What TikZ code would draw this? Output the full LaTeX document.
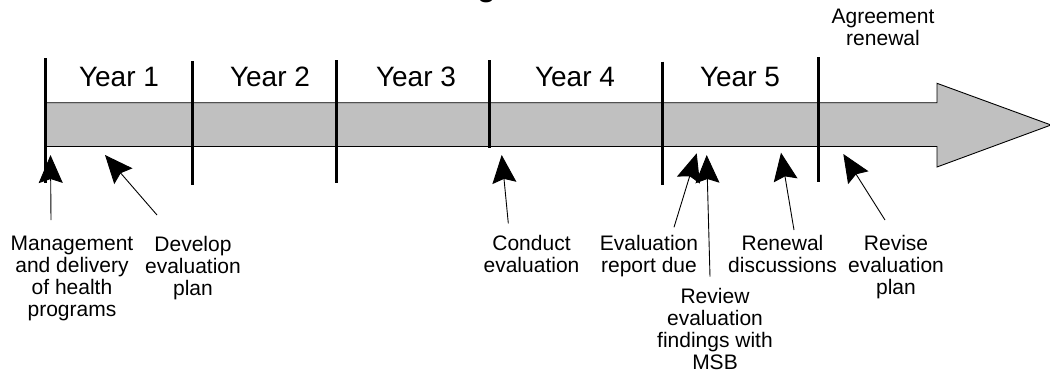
\documentclass[tikz,border=0pt]{standalone}
\usepackage{fontspec}
\setmainfont{Liberation Sans}
\usetikzlibrary{arrows.meta}
\definecolor{bargray}{HTML}{C0C0C0}
\tikzset{
  yearlbl/.style={font=\fontsize{28}{30}\selectfont, anchor=base, inner sep=0},
  note/.style={font=\fontsize{21}{22}\selectfont, align=center, anchor=north, inner sep=0},
  divider/.style={line width=3pt},
  pointer/.style={line width=0.9pt, -{Stealth[length=28pt,width=24pt,inset=4pt]}},
}
\begin{document}
\begin{tikzpicture}[x=1pt,y=-1pt]
\useasboundingbox (0,0) rectangle (1050,375);
% title fragment
\node[font=\fontsize{30}{30}\selectfont\bfseries, anchor=base, inner sep=0] (title) at (486.5,-3.6) {g};
% bar arrow
\draw[fill=bargray, line width=0.9pt, line join=miter]
  (45,102.7) -- (937,102.7) -- (937,83.3) -- (1051,125) -- (937,167) -- (937,146.5) -- (45,146.5) -- cycle;
% dividers
\coordinate (d0t) at (45,58);    \coordinate (d0b) at (45,183);
\coordinate (d1t) at (192,61);   \coordinate (d1b) at (192,185);
\coordinate (d2t) at (336,60);   \coordinate (d2b) at (336,183);
\coordinate (d3t) at (489,60);   \coordinate (d3b) at (489,147.5);
\coordinate (d4t) at (662.3,61.5); \coordinate (d4b) at (662.3,185);
\coordinate (d5t) at (818.5,57); \coordinate (d5b) at (818.5,181.7);
\foreach \i in {0,...,5} \draw[divider] (d\i t) -- (d\i b);
% year labels
\node[yearlbl] (y1) at (119,86.7) {Year 1};
\node[yearlbl] (y2) at (270,86.7) {Year 2};
\node[yearlbl] (y3) at (416,86.7) {Year 3};
\node[yearlbl] (y4) at (575,86.7) {Year 4};
\node[yearlbl] (y5) at (740,86.7) {Year 5};
% notes
\node[note] (agr) at (883,9) {Agreement\\renewal};
\node[note] (mgmt) at (72,236) {Management\\and delivery\\of health\\programs};
\node[note] (dev) at (193,236) {Develop\\evaluation\\plan};
\node[note] (cond) at (531.5,235) {Conduct\\evaluation};
\node[note] (rep) at (649,235) {Evaluation\\report due};
\node[note] (rev) at (715,288) {Review\\evaluation\\findings with\\MSB};
\node[note] (ren) at (782.5,235) {Renewal\\discussions};
\node[note] (revise) at (896,235) {Revise\\evaluation\\plan};
% pointer ends
\coordinate (a1s) at (51,220);     \coordinate (a1e) at (50.5,155);
\coordinate (a2s) at (157,215);    \coordinate (a2e) at (105,155);
\coordinate (a3s) at (508.3,223.3);\coordinate (a3e) at (501.7,155);
\coordinate (a4s) at (674,227.3);  \coordinate (a4e) at (696.7,153.3);
\coordinate (a5s) at (710,276.7);  \coordinate (a5e) at (706.7,155);
\coordinate (a6s) at (794,230);    \coordinate (a6e) at (781,152.7);
\coordinate (a7s) at (885,220);    \coordinate (a7e) at (843.3,154);
\foreach \i in {1,...,7} \draw[pointer] (a\i s) -- (a\i e);
\end{tikzpicture}
\end{document}
